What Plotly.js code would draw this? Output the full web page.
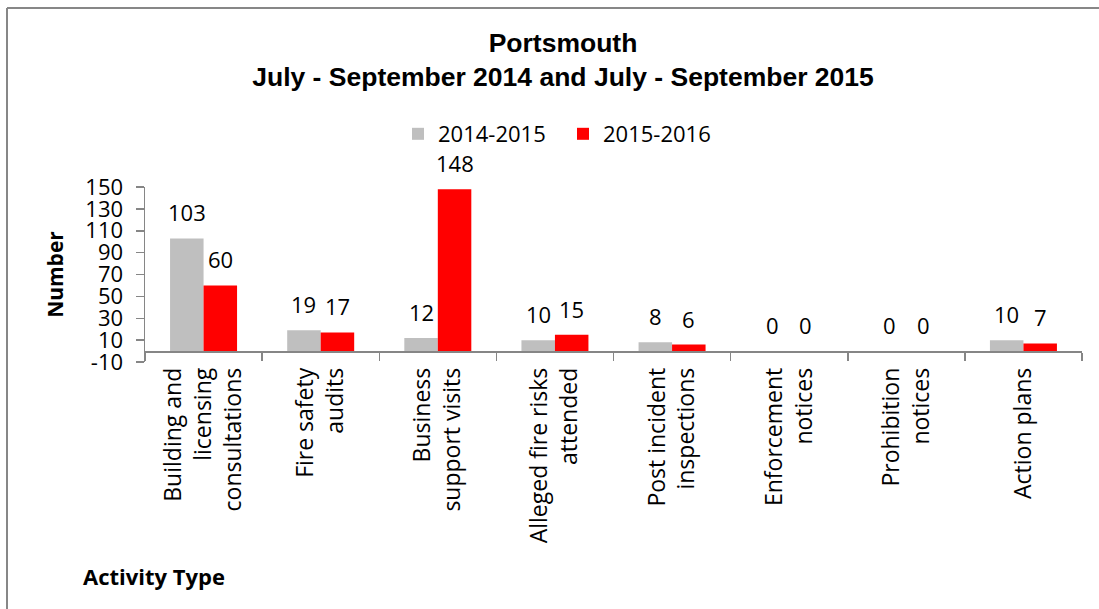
<!DOCTYPE html>
<html>
<head>
<meta charset="utf-8">
<script src="https://cdn.plot.ly/plotly-3.0.1.min.js"></script>
<style>
html,body{margin:0;padding:0;background:#fff;}
#chart{width:1099px;height:609px;}
</style>
</head>
<body>
<div id="chart"></div>
<script>
const categories = [
  "Building and<br>licensing<br>consultations",
  "Fire safety<br>audits",
  "Business<br>support visits",
  "Alleged fire risks<br>attended",
  "Post incident<br>inspections",
  "Enforcement<br>notices",
  "Prohibition<br>notices",
  "Action plans"
];
const seriesNames = ["2014-2015", "2015-2016"];
const values2014 = [103, 19, 12, 10, 8, 0, 0, 10];
const values2015 = [60, 17, 148, 15, 6, 0, 0, 7];
const yTickVals = [-10, 10, 30, 50, 70, 90, 110, 130, 150];
const yTickText = ["-10", "10", "30", "50", "70", "90", "110", "130", "150"];

const FONT = "Open Sans, Noto Sans, sans-serif";
const colors = ["#BFBFBF", "#FF0000"];

const traces = [values2014, values2015].map((vals, i) => ({
  type: "bar",
  name: seriesNames[i],
  x: categories,
  y: vals,
  marker: {color: colors[i]},
  hoverinfo: "x+y+name"
}));

// data labels above each bar
const annotations = [];
[values2014, values2015].forEach((vals, i) => {
  vals.forEach((v, j) => {
    annotations.push({
      x: categories[j], y: v, xref: "x", yref: "y",
      text: String(v), showarrow: false,
      xshift: i === 0 ? -16.75 : 16.75, yshift: 26,
      xanchor: "center", yanchor: "middle",
      font: {family: FONT, size: 22, color: "#000"}
    });
  });
});
annotations.push({
  text: "<b>Activity Type</b>", showarrow: false,
  xref: "paper", yref: "paper",
  x: (154 - 145) / 937, y: (362 - 576) / 175,
  xanchor: "center", yanchor: "middle",
  font: {family: FONT, size: 22, color: "#000"}
});

const layout = {
  width: 1099, height: 609,
  margin: {l: 145, r: 17, t: 187, b: 247, pad: 0},
  paper_bgcolor: "#fff", plot_bgcolor: "#fff",
  font: {family: FONT, size: 22, color: "#000"},
  title: {
    text: "<b>Portsmouth<br>July - September 2014 and July - September 2015</b>",
    font: {family: "Liberation Sans, Arial, sans-serif", size: 26.5, color: "#000"},
    xref: "paper", x: (563 - 145) / 937, xanchor: "center",
    yref: "container", y: 1 - 52 / 609, yanchor: "middle"
  },
  barmode: "group",
  bargap: 0.428,
  bargroupgap: 0,
  showlegend: true,
  legend: {
    orientation: "h",
    x: (563 - 145) / 937, xanchor: "center",
    y: (362 - 134) / 175, yanchor: "middle",
    font: {family: FONT, size: 22, color: "#000"},
    bgcolor: "rgba(0,0,0,0)",
    entrywidth: 120,
    itemclick: false
  },
  xaxis: {
    type: "category",
    anchor: "free", position: 10 / 160,
    showline: true, linecolor: "#868686", linewidth: 1.5,
    ticks: "outside", tickson: "boundaries", ticklen: 8, tickcolor: "#868686", tickwidth: 1.5,
    tickangle: -90,
    ticklabelstandoff: 6,
    tickfont: {family: FONT, size: 23, color: "#000"},
    showgrid: false, zeroline: false,
    fixedrange: true
  },
  yaxis: {
    range: [-10, 150],
    tickmode: "array", tickvals: yTickVals, ticktext: yTickText,
    showline: true, linecolor: "#868686", linewidth: 1.5,
    ticks: "outside", ticklen: 8, tickcolor: "#868686", tickwidth: 1.5,
    tickfont: {family: FONT, size: 22, color: "#000"},
    ticklabelstandoff: 8,
    showgrid: false, zeroline: false,
    title: {text: "<b>Number</b>", font: {family: FONT, size: 21, color: "#000"}, standoff: 16},
    fixedrange: true
  },
  shapes: [
    {type: "line", xref: "paper", yref: "paper",
     x0: (7 - 145) / 937, x1: (1099 - 145) / 937, y0: (362 - 8) / 175, y1: (362 - 8) / 175,
     line: {color: "#878787", width: 2}},
    {type: "line", xref: "paper", yref: "paper",
     x0: (7 - 145) / 937, x1: (7 - 145) / 937, y0: (362 - 8) / 175, y1: (362 - 609) / 175,
     line: {color: "#878787", width: 2}}
  ],
  annotations: annotations
};

Plotly.newPlot("chart", traces, layout, {displayModeBar: false, staticPlot: true});
</script>
</body>
</html>
